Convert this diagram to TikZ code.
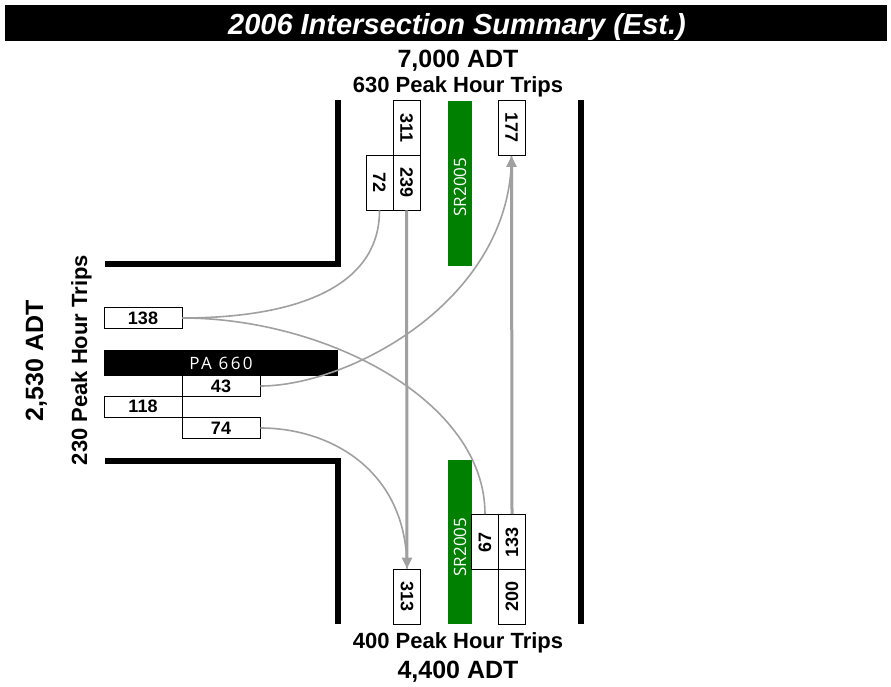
\documentclass[tikz,border=0pt]{standalone}
\usepackage{fontspec}
\setmainfont{Liberation Sans}
\newfontfamily\osans{Open Sans}
\newfontfamily\osanssp[LetterSpace=14]{Open Sans}
\usetikzlibrary{arrows.meta}
\definecolor{roadgreen}{RGB}{0,128,0}
\definecolor{flowgray}{RGB}{160,160,160}
\begin{document}
\begin{tikzpicture}[x=1pt,y=-1pt,
  numfont/.style={font=\fontsize{18}{18}\selectfont\bfseries},
  vbox/.style={draw=black,line width=0.9pt,fill=white,minimum width=27pt,minimum height=55pt,inner sep=0pt,numfont},
  hbox/.style={draw=black,line width=0.9pt,fill=white,minimum width=78pt,minimum height=21pt,inner sep=0pt,numfont},
  gbar/.style={fill=roadgreen,minimum width=24pt,inner sep=0pt,text=white,font=\osans\fontsize{17}{17}\selectfont},
  road/.style={line width=6pt,black},
  flow/.style={draw=flowgray,line width=3pt,-{Triangle[length=11pt,width=10pt]}},
  curvy/.style={draw=flowgray,line width=1.6pt},
  bigtxt/.style={anchor=base,inner sep=0pt,font=\fontsize{25}{25}\selectfont\bfseries},
  midtxt/.style={anchor=base,inner sep=0pt,font=\fontsize{22}{22}\selectfont\bfseries}]
\useasboundingbox (0,0) rectangle (891,687);

% title bar
\fill[black] (5,5) rectangle (887,41);
\node[anchor=base,inner sep=0pt,text=white,font=\fontsize{29}{29}\selectfont\bfseries\itshape] (title) at (457,35) {2006 Intersection Summary (Est.)};

% approach labels
\node[bigtxt] (adtN) at (458,68) {7,000 ADT};
\node[midtxt] (phN) at (458,93) {630 Peak Hour Trips};
\node[midtxt] (phS) at (458,648) {400 Peak Hour Trips};
\node[bigtxt] (adtS) at (458,678) {4,400 ADT};
\node[bigtxt,rotate=90] (adtW) at (43,361) {2,530 ADT};
\node[midtxt,rotate=90] (phW) at (87,360) {230 Peak Hour Trips};

% road edges
\draw[road] (105,263.5) -- (338,263.5) -- (338,100);
\draw[road] (105,461) -- (337.5,461) -- (337.5,624);
\draw[road] (581,100) -- (581,624);

% medians / road names
\node[gbar,minimum height=165pt] (gtop) at (460,183.5) {};
\node[text=white,font=\osans\fontsize{17}{17}\selectfont,inner sep=0pt] (gtopt) at (460,187) {\rotatebox{90}{SR2005}};
\node[gbar,minimum height=164pt] (gbot) at (460,542) {};
\node[text=white,font=\osans\fontsize{17}{17}\selectfont,inner sep=0pt] (gbott) at (460,547) {\rotatebox{90}{SR2005}};
\node[fill=black,minimum width=234pt,minimum height=26pt,inner sep=0pt,text=white,font=\osanssp\fontsize{17}{17}\selectfont] (pa) at (221,363) {PA 660};

% volume boxes
\node[vbox] (b311) at (406.5,128) {\rotatebox{-90}{311}};
\node[vbox] (b239) at (406.5,182.5) {\rotatebox{-90}{239}};
\node[vbox] (b72) at (379.5,182.5) {\rotatebox{-90}{72}};
\node[vbox] (b177) at (511.5,128) {\rotatebox{-90}{177}};
\node[vbox] (b313) at (407,596.5) {\rotatebox{-90}{313}};
\node[vbox] (b67) at (485,542) {\rotatebox{90}{67}};
\node[vbox] (b133) at (512,542) {\rotatebox{90}{133}};
\node[vbox] (b200) at (512,596.5) {\rotatebox{90}{200}};
\node[hbox] (b138) at (143,318) {138};
\node[hbox] (b43) at (221,386) {43};
\node[hbox] (b118) at (143,406.5) {118};
\node[hbox] (b74) at (221,428) {74};

% turning movements
\draw[curvy] (b72.south) .. controls (379.5,290) and (290,318) .. (b138.east);
\draw[curvy] (b138.east) .. controls (325,318) and (485,400) .. (b67.north);
\draw[curvy] (b43.east) .. controls (350,386) and (511.5,300) .. (b177.south);
\draw[curvy] (b74.east) .. controls (330,428) and (407,470) .. (b313.north);

% through movements
\draw[flow] (b239.south) -- (b313.north);
\draw[flow] (b133.north) -- (b177.south);
\end{tikzpicture}
\end{document}
